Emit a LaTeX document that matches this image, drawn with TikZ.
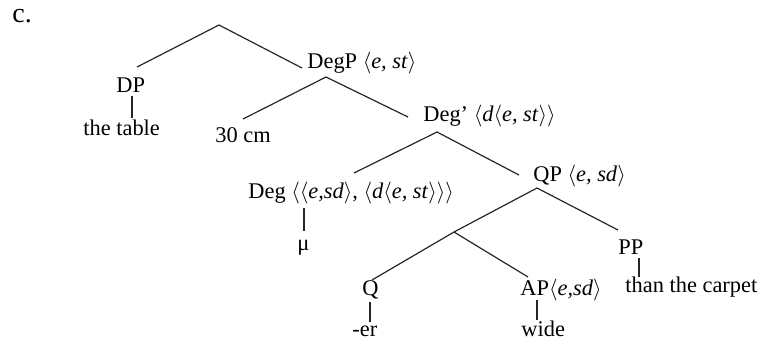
\documentclass[tikz,border=0pt]{standalone}
\usepackage{fontspec}
\setmainfont{Liberation Serif}
\usepackage{tikz}
\newcommand{\stype}[1]{$\langle$#1$\rangle$}

\begin{document}
\begin{tikzpicture}[
        x=0.5pt, y=-0.5pt,
        lbl/.style={anchor=base west, inner sep=0pt,
                    font=\fontsize{11.2}{13}\selectfont},
        branch/.style={line width=0.6pt, draw=black!85}
      ]
        \useasboundingbox (0,0) rectangle (760,344);
        \node[lbl, font=\fontsize{14}{16}\selectfont] (c) at (12,22) {c.};

        % labels of the tree
        \node[lbl] (dp)     at (116,92)  {DP};
        \node[lbl] (table)  at (83,135)  {the table};
        \node[lbl] (degp)   at (307,68)  {DegP \stype{\textit{e, st}}};
        \node[lbl] (cm)     at (215,142) {30 cm};
        \node[lbl] (degbar) at (423,121) {Deg' \stype{\textit{d}\stype{\textit{e, st}}}};
        \node[lbl] (deg)    at (248,198) {Deg \stype{\stype{\textit{e,sd}}, \stype{\textit{d}\stype{\textit{e, st}}}}};
        \node[lbl] (mu)     at (297,250) {μ};
        \node[lbl] (qp)     at (533,181) {QP \stype{\textit{e, sd}}};
        \node[lbl] (q)      at (362,295) {Q};
        \node[lbl] (ap)     at (520,295) {AP\stype{\textit{e,sd}}};
        \node[lbl] (pp)     at (618,254) {PP};
        \node[lbl] (er)     at (352,336) {-er};
        \node[lbl] (wide)   at (521,336) {wide};
        \node[lbl] (carpet) at (625,292) {than the carpet};

        % branching points
        \coordinate (top)    at (219,25);
        \coordinate (degpup) at ([shift={(19,9)}]degp.base west);
        \coordinate (degup)  at ([shift={(14,11)}]degbar.base west);
        \coordinate (qpup)   at ([shift={(4,7)}]qp.base west);
        \coordinate (join)   at (454,232);

        \draw[branch] (top) -- ([shift={(21,-25)}]dp.base west);
        \draw[branch] (top) -- ([shift={(-5,0)}]degp.base west);
        \draw[branch] (degpup) -- ([shift={(28,-23)}]cm.base west);
        \draw[branch] (degpup) -- ([shift={(-15,-4)}]degbar.base west);
        \draw[branch] (degup) -- ([shift={(106,-25)}]deg.base west);
        \draw[branch] (degup) -- ([shift={(-14,-6)}]qp.base west);
        \draw[branch] (qpup) -- (join);
        \draw[branch] (qpup) -- ([shift={(0,-24)}]pp.base west);
        \draw[branch] (join) -- ([shift={(10,-15)}]q.base west);
        \draw[branch] (join) -- ([shift={(8,-18)}]ap.base west);

        % unary lines
        \draw[branch] ([shift={(16,4)}]dp.base west) -- ([shift={(49,-17)}]table.base west);
        \draw[branch] ([shift={(56,10)}]deg.base west) -- ([shift={(7,-19)}]mu.base west);
        \draw[branch] ([shift={(8,7)}]q.base west) -- ([shift={(18,-14)}]er.base west);
        \draw[branch] ([shift={(17,5)}]ap.base west) -- ([shift={(16,-16)}]wide.base west);
        \draw[branch] ([shift={(21,4)}]pp.base west) -- ([shift={(14,-15)}]carpet.base west);
      \end{tikzpicture}
\end{document}
